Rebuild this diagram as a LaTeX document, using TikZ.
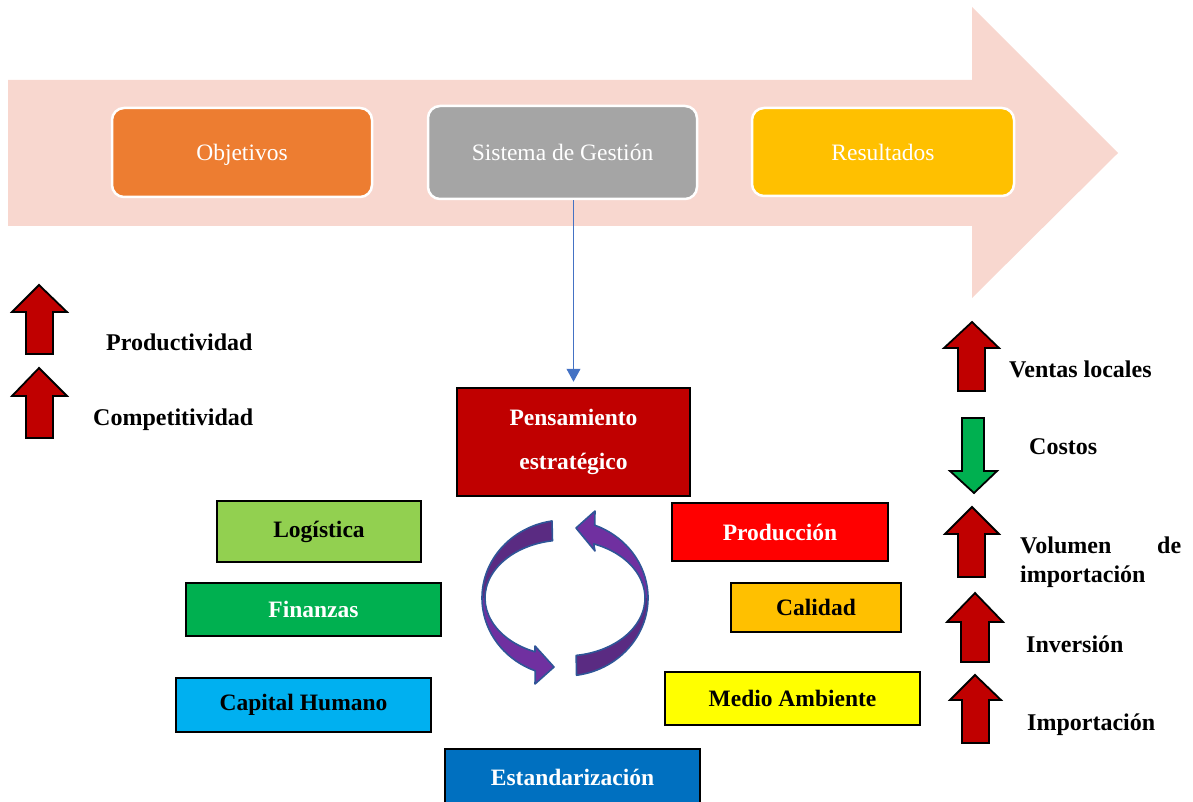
\documentclass[tikz,border=0pt]{standalone}
\usepackage{fontspec}
\setmainfont{Liberation Serif}
\usetikzlibrary{calc,arrows.meta}
\definecolor{bigarrow}{HTML}{F8D7CF}
\definecolor{cobj}{HTML}{ED7D31}
\definecolor{csis}{HTML}{A5A5A5}
\definecolor{cres}{HTML}{FFC000}
\definecolor{cpens}{HTML}{C00000}
\definecolor{clog}{HTML}{92D050}
\definecolor{cfin}{HTML}{00B050}
\definecolor{ccap}{HTML}{00B0F0}
\definecolor{cprod}{HTML}{FF0000}
\definecolor{ccal}{HTML}{FFC000}
\definecolor{cmed}{HTML}{FFFF00}
\definecolor{cest}{HTML}{0070C0}
\definecolor{cconn}{HTML}{4472C4}
\definecolor{arrred}{HTML}{C00000}
\definecolor{arrgreen}{HTML}{00B050}
\definecolor{pdark}{HTML}{5A2B82}
\definecolor{plight}{HTML}{7030A0}
\definecolor{pedge}{HTML}{2F5597}
\begin{document}
\begin{tikzpicture}[x=1pt,y=-1pt,
  topbox/.style={rounded corners=12pt, draw=white, line width=2.5pt, text=white,
    font=\fontsize{23.5}{26}\selectfont, inner sep=0pt, text height=22pt, text depth=5pt},
  catbox/.style={draw=black, line width=2.5pt, font=\bfseries\fontsize{23.5}{26}\selectfont, inner sep=0pt},
  lbl/.style={font=\bfseries\fontsize{24}{29}\selectfont, anchor=base west, inner sep=0pt},
  redarr/.style={fill=arrred, draw=black, line width=1.8pt, line join=miter},
  greenarr/.style={fill=arrgreen, draw=black, line width=1.8pt, line join=miter},
  conn/.style={draw=cconn, line width=1pt, -{Triangle[width=14pt,length=13pt]}},
  ringedge/.style={draw=pedge, line width=1.6pt, line join=round}]
\useasboundingbox (0,0) rectangle (1193,802);
\clip (0,0) rectangle (1193,802);

% big background arrow
\fill[bigarrow] (8,80) -- (972,80) -- (972,7) -- (1118,153) -- (972,298) -- (972,226) -- (8,226) -- cycle;

% top boxes
\node[topbox, fill=cobj, minimum width=260pt, minimum height=89pt] (obj) at (242,152.5) {Objetivos};
\node[topbox, fill=csis, minimum width=269pt, minimum height=93pt] (sis) at (562.5,152.5) {Sistema de Gestión};
\node[topbox, fill=cres, minimum width=262pt, minimum height=88pt] (res) at (883,152) {Resultados};

% central box
\node[catbox, fill=cpens, text=white, align=center, font=\bfseries\fontsize{23.5}{44}\selectfont,
  minimum width=233pt, minimum height=108pt] (pens) at (573.5,442) {Pensamiento\\estratégico};

\draw[conn] (sis.south -| pens.north) -- ([yshift=5pt]pens.north);

% category boxes
\node[catbox, fill=clog, minimum width=204pt, minimum height=61pt] (log) at (319,531.5) {Logística};
\node[catbox, fill=cfin, text=white, minimum width=255pt, minimum height=53pt] (fin) at (313.5,609.5) {Finanzas};
\node[catbox, fill=ccap, minimum width=255pt, minimum height=54pt] (cap) at (303.5,705) {Capital Humano};
\node[catbox, fill=cprod, text=white, minimum width=216pt, minimum height=58pt] (prod) at (780,532) {Producción};
\node[catbox, fill=ccal, minimum width=170pt, minimum height=49pt] (cal) at (816,607.5) {Calidad};
\node[catbox, fill=cmed, minimum width=255pt, minimum height=53pt] (med) at (792.5,698.5) {Medio Ambiente};
\node[catbox, fill=cest, text=white, minimum width=255pt, minimum height=56pt] (est) at (572.5,777) {Estandarización};

% circular arrows
\coordinate (rc) at (565,598);
\def\LArrowPath{($(rc)+(261:83 and 78)$) arc[start angle=261,end angle=111,x radius=83,y radius=78]
  -- (535,684) -- (554,667) -- (535,646) -- ($(rc)+(112:80 and 58)$)
  arc[start angle=112,end angle=261,x radius=80,y radius=58] -- cycle}
\def\RArrowPath{($(rc)+(82:83 and 78)$) arc[start angle=82,end angle=-69,x radius=83,y radius=78]
  -- (595,511) -- (576,528) -- (595,551) -- ($(rc)+(-69:80 and 58)$)
  arc[start angle=-69,end angle=82,x radius=80,y radius=58] -- cycle}
\begin{scope}\clip (400,450) rectangle (720,598); \fill[pdark] \LArrowPath; \fill[plight] \RArrowPath; \end{scope}
\begin{scope}\clip (400,598) rectangle (720,740); \fill[plight] \LArrowPath; \fill[pdark] \RArrowPath; \end{scope}
\draw[ringedge] \LArrowPath;
\draw[ringedge] \RArrowPath;

% left indicator arrows
\draw[redarr] (26,354) -- (26,312) -- (12,312) -- (39,285) -- (67,312) -- (53,312) -- (53,354) -- cycle;
\draw[redarr] (26,438) -- (26,396) -- (12,396) -- (39,368) -- (67,396) -- (53,396) -- (53,438) -- cycle;
\node[lbl] (prodl) at (106,350) {Productividad};
\node[lbl] (comp) at (93,425) {Competitividad};

% right indicator arrows
\draw[redarr] (958,391) -- (958,348) -- (944,348) -- (972,322) -- (999,348) -- (985,348) -- (985,391) -- cycle;
\draw[greenarr] (962,418) -- (984,418) -- (984,471) -- (997,471) -- (974,493) -- (950,471) -- (962,471) -- cycle;
\draw[redarr] (958,577) -- (958,534) -- (945,534) -- (972,507) -- (999,534) -- (985,534) -- (985,577) -- cycle;
\draw[redarr] (961,662) -- (961,622) -- (947,622) -- (975,593) -- (1003,622) -- (989,622) -- (989,662) -- cycle;
\draw[redarr] (962,743) -- (962,700) -- (950,700) -- (975,675) -- (1001,700) -- (989,700) -- (989,743) -- cycle;
\node[lbl] (ventas) at (1009,377) {Ventas locales};
\node[lbl] (costos) at (1029,454) {Costos};
\node[lbl, anchor=west, align=left] (vol) at (1020,562) {\makebox[161pt][s]{Volumen de}\\importación};
\node[lbl] (inv) at (1026,652) {Inversión};
\node[lbl] (imp) at (1027,730) {Importación};
\end{tikzpicture}
\end{document}
